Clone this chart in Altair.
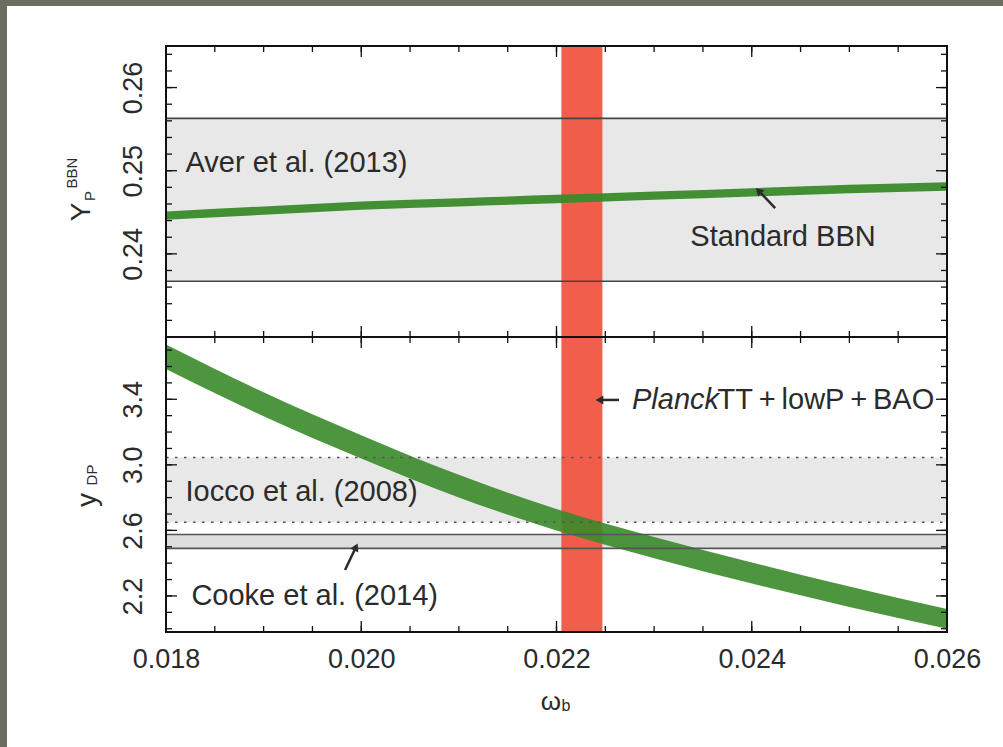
import altair as alt
import pandas as pd

# ---------------- data ----------------
omega_b = [0.018, 0.019, 0.020, 0.021, 0.022, 0.023, 0.024, 0.025, 0.026]
yp_low = [0.2441, 0.2447, 0.2453, 0.2457, 0.2461, 0.2465, 0.2469, 0.2473, 0.2476]
yp_high = [0.2451, 0.2457, 0.2463, 0.2467, 0.2471, 0.2475, 0.2479, 0.2483, 0.2486]
ydp_low = [3.585, 3.297, 3.039, 2.801, 2.599, 2.430, 2.276, 2.133, 2.000]
ydp_high = [3.735, 3.443, 3.181, 2.939, 2.731, 2.560, 2.404, 2.257, 2.120]

aver_yp = [0.2367, 0.2563]      # Aver et al. (2013)
iocco_ydp = [2.65, 3.045]       # Iocco et al. (2008)
cooke_ydp = [2.49, 2.575]       # Cooke et al. (2014)
planck_wb = [0.02205, 0.02247]  # Planck TT+lowP+BAO

x_labels = [0.018, 0.020, 0.022, 0.024, 0.026]
x_minor = [round(0.018 + 0.0005 * i, 4) for i in range(1, 16)]
yp_labels = [0.24, 0.25, 0.26]
yp_minor = [round(0.232 + 0.002 * i, 3) for i in range(17)]
ydp_labels = [2.2, 2.6, 3.0, 3.4]
ydp_minor = [round(2.0 + 0.1 * i, 1) for i in range(18)]

# ---------------- style ----------------
W, H_TOP, H_BOT = 781, 291, 295
FONT = "Liberation Sans"
INK = "#2b2b2b"
GREEN = "#3a8a2a"
RED = "#f0503c"
BAND = "#e8e8e8"
FRAME = "#111111"

xs = alt.Scale(domain=[0.018, 0.026], nice=False, zero=False)
ys_top = alt.Scale(domain=[0.23, 0.265], nice=False, zero=False)
ys_bot = alt.Scale(domain=[1.98, 3.78], nice=False, zero=False)

one = pd.DataFrame({"k": [0]})


def y_axis(vals, fmt):
    return alt.Axis(values=vals, format=fmt, title=None, ticks=False, tickSize=0,
                    domain=False, grid=False, labelAngle=270, labelAlign="center",
                    labelBaseline="bottom", labelPadding=19, labelFlush=False,
                    labelFont=FONT, labelFontSize=27, labelColor=INK, zindex=1)


x_axis_bottom = alt.Axis(values=x_labels, format=".3f", title=None, ticks=False, tickSize=0,
                         domain=False, grid=False, labelPadding=14, labelFlush=False,
                         labelOverlap=False, labelFont=FONT, labelFontSize=27,
                         labelColor=INK, zindex=1)


def tick_layers(xaxis, yscale, yaxis, H, y_major, y_minor):
    layers = []
    for vals, L in ((x_minor, 6), (x_labels, 11)):
        base = alt.Chart(pd.DataFrame({"v": vals})).mark_rule(color=FRAME, strokeWidth=1.3)
        xe = alt.X("v:Q", scale=xs, axis=xaxis)
        layers.append(base.encode(x=xe, y=alt.value(0), y2=alt.value(L)))
        layers.append(base.encode(x=xe, y=alt.value(H), y2=alt.value(H - L)))
    for vals, L in ((y_minor, 6), (y_major, 11)):
        base = alt.Chart(pd.DataFrame({"v": vals})).mark_rule(color=FRAME, strokeWidth=1.3)
        ye = alt.Y("v:Q", scale=yscale, axis=yaxis)
        layers.append(base.encode(y=ye, x=alt.value(0), x2=alt.value(L)))
        layers.append(base.encode(y=ye, x=alt.value(W), x2=alt.value(W - L)))
    return layers


def frame(H):
    return alt.Chart(one).mark_rect(fillOpacity=0, stroke=FRAME, strokeWidth=2).encode(
        x=alt.value(0), x2=alt.value(W), y=alt.value(0), y2=alt.value(H))


def planck_strip(xaxis, H):
    d = pd.DataFrame({"lo": [planck_wb[0]], "hi": [planck_wb[1]]})
    return alt.Chart(d).mark_rect(color=RED, opacity=0.92).encode(
        x=alt.X("lo:Q", scale=xs, axis=xaxis), x2="hi:Q",
        y=alt.value(0), y2=alt.value(H))


def label_text(xaxis, yscale, yaxis, xv, yv, text, align="left", style="normal"):
    d = pd.DataFrame({"x": [xv], "y": [yv], "t": [text]})
    return alt.Chart(d).mark_text(font=FONT, fontSize=29, color=INK, align=align,
                                  baseline="middle", fontStyle=style).encode(
        x=alt.X("x:Q", scale=xs, axis=xaxis),
        y=alt.Y("y:Q", scale=yscale, axis=yaxis),
        text="t:N")


def arrow(xaxis, yscale, yaxis, tail, head, ang):
    d = pd.DataFrame({"x0": [tail[0]], "y0": [tail[1]], "x1": [head[0]], "y1": [head[1]], "a": [ang]})
    shaft = alt.Chart(d).mark_rule(color=INK, strokeWidth=2.5).encode(
        x=alt.X("x0:Q", scale=xs, axis=xaxis), y=alt.Y("y0:Q", scale=yscale, axis=yaxis),
        x2="x1:Q", y2="y1:Q")
    tip = alt.Chart(d).mark_point(shape="triangle-up", filled=True, size=80, color=INK,
                                  opacity=1).encode(
        x=alt.X("x1:Q", scale=xs, axis=xaxis), y=alt.Y("y1:Q", scale=yscale, axis=yaxis),
        angle=alt.Angle("a:Q", scale=None))
    return [shaft, tip]


def pixel_text(text, x, y, size, angle=0, style="normal"):
    return alt.Chart(one).mark_text(text=text, font=FONT, fontSize=size, color=INK,
                                    align="center", baseline="middle", angle=angle,
                                    fontStyle=style).encode(x=alt.value(x), y=alt.value(y))


# ---------------- top panel: helium fraction ----------------
ya_top = y_axis(yp_labels, ".2f")
xa_top = None

backdrop = alt.Chart(one).mark_rect(color="white", strokeWidth=0).encode(
    x=alt.value(-159), x2=alt.value(837), y=alt.value(-40), y2=alt.value(701))

aver_fill = alt.Chart(pd.DataFrame({"lo": [aver_yp[0]], "hi": [aver_yp[1]]})).mark_rect(
    color=BAND).encode(y=alt.Y("lo:Q", scale=ys_top, axis=ya_top), y2="hi:Q",
                       x=alt.value(0), x2=alt.value(W))
aver_edges = alt.Chart(pd.DataFrame({"v": aver_yp})).mark_rule(color="#444", strokeWidth=1.6).encode(
    y=alt.Y("v:Q", scale=ys_top, axis=ya_top), x=alt.value(0), x2=alt.value(W))

bbn_df = pd.DataFrame({"wb": omega_b, "lo": yp_low, "hi": yp_high})
yp_band = alt.Chart(bbn_df).mark_area(color=GREEN, opacity=0.95, clip=True,
                                      interpolate="monotone").encode(
    x=alt.X("wb:Q", scale=xs, axis=xa_top),
    y=alt.Y("lo:Q", scale=ys_top, axis=ya_top), y2="hi:Q")

top_layers = [backdrop, aver_fill, planck_strip(xa_top, H_TOP), yp_band, aver_edges]
top_layers += tick_layers(xa_top, ys_top, ya_top, H_TOP, yp_labels, yp_minor)
top_layers += [frame(H_TOP),
               label_text(xa_top, ys_top, ya_top, 0.0182, 0.2509, "Aver et al. (2013)"),
               label_text(xa_top, ys_top, ya_top, 0.02432, 0.2420, "Standard BBN", align="center")]
top_layers += arrow(xa_top, ys_top, ya_top, (0.02424, 0.2455), (0.02407, 0.2476), 316)
top_layers += [pixel_text("Y", -84, 166, 28, angle=270),
               pixel_text("P", -76, 150, 15, angle=270),
               pixel_text("BBN", -94, 127, 15, angle=270)]

top = alt.layer(*top_layers).properties(width=W, height=H_TOP)

# ---------------- bottom panel: deuterium abundance ----------------
ya_bot = y_axis(ydp_labels, ".1f")
xa_bot = x_axis_bottom

iocco_fill = alt.Chart(pd.DataFrame({"lo": [iocco_ydp[0]], "hi": [iocco_ydp[1]]})).mark_rect(
    color=BAND).encode(y=alt.Y("lo:Q", scale=ys_bot, axis=ya_bot), y2="hi:Q",
                       x=alt.value(0), x2=alt.value(W))
cooke_fill = alt.Chart(pd.DataFrame({"lo": [cooke_ydp[0]], "hi": [cooke_ydp[1]]})).mark_rect(
    color="#dedede").encode(y=alt.Y("lo:Q", scale=ys_bot, axis=ya_bot), y2="hi:Q",
                            x=alt.value(0), x2=alt.value(W))
iocco_edges = alt.Chart(pd.DataFrame({"v": iocco_ydp})).mark_rule(
    color="#555", strokeWidth=1.6, strokeDash=[2.5, 6.5]).encode(
    y=alt.Y("v:Q", scale=ys_bot, axis=ya_bot), x=alt.value(0), x2=alt.value(W))
cooke_edges = alt.Chart(pd.DataFrame({"v": cooke_ydp})).mark_rule(
    color="#555", strokeWidth=1.6).encode(
    y=alt.Y("v:Q", scale=ys_bot, axis=ya_bot), x=alt.value(0), x2=alt.value(W))

dp_df = pd.DataFrame({"wb": omega_b, "lo": ydp_low, "hi": ydp_high})
ydp_band = alt.Chart(dp_df).mark_area(color=GREEN, opacity=0.9, clip=True,
                                      interpolate="monotone").encode(
    x=alt.X("wb:Q", scale=xs, axis=xa_bot),
    y=alt.Y("lo:Q", scale=ys_bot, axis=ya_bot), y2="hi:Q")

bot_layers = [iocco_fill, cooke_fill, planck_strip(xa_bot, H_BOT), ydp_band,
              iocco_edges, cooke_edges]
bot_layers += tick_layers(xa_bot, ys_bot, ya_bot, H_BOT, ydp_labels, ydp_minor)
bot_layers += [frame(H_BOT),
               label_text(xa_bot, ys_bot, ya_bot, 0.022773, 3.396, "Planck", style="italic"),
               label_text(xa_bot, ys_bot, ya_bot, 0.02365, 3.396,
                          "TT\u2009+\u2009lowP\u2009+\u2009BAO"),
               label_text(xa_bot, ys_bot, ya_bot, 0.0182, 2.834, "Iocco et al. (2008)"),
               label_text(xa_bot, ys_bot, ya_bot, 0.01826, 2.20, "Cooke et al. (2014)")]
bot_layers += arrow(xa_bot, ys_bot, ya_bot, (0.02264, 3.396), (0.02244, 3.396), 270)
bot_layers += arrow(xa_bot, ys_bot, ya_bot, (0.019834, 2.358), (0.019946, 2.4986), 26)
bot_layers += [pixel_text("y", -78, 163, 28, angle=270),
               pixel_text("DP", -74, 138, 15, angle=270),
               pixel_text("\u03c9", 385, 365, 26),
               pixel_text("b", 400, 369, 16)]

bottom = alt.layer(*bot_layers).properties(width=W, height=H_BOT)

chart = alt.vconcat(top, bottom, spacing=0, bounds="flush").resolve_scale(
    y="independent").properties(
    background="#6c6c5f",
    padding={"left": 7, "top": 6, "right": 0, "bottom": 0},
).configure_view(strokeWidth=0)

chart.save("out.html", embed_options={"renderer": "svg", "actions": False})
